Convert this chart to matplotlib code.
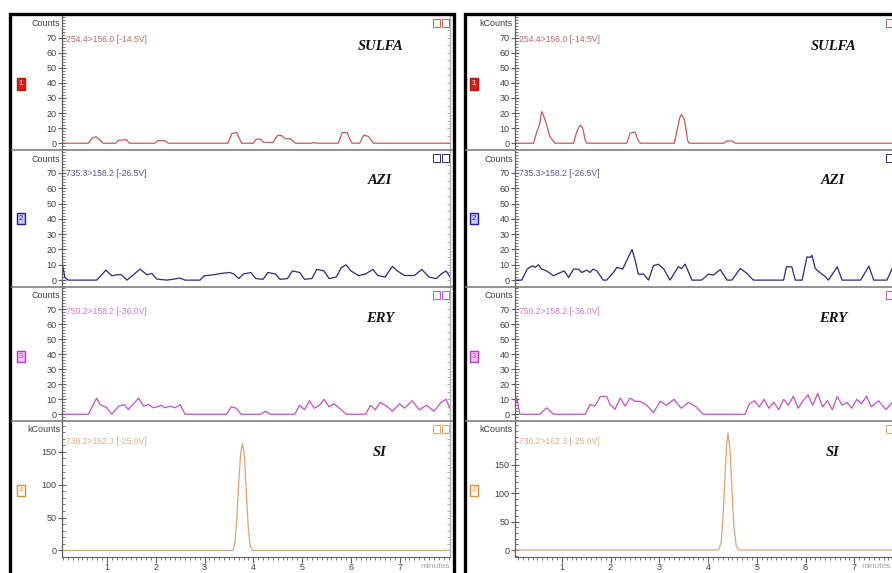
import matplotlib
matplotlib.use('Agg')
import matplotlib.pyplot as plt
from matplotlib.patches import Rectangle
from matplotlib.lines import Line2D
from matplotlib.ticker import MultipleLocator, NullFormatter

# ── Traces: (time [min], intensity) ───────────────────────────────────────────
sulfa_l_t = [0.06, 0.62, 0.70, 0.78, 0.86, 0.92, 1.18, 1.24, 1.40, 1.46, 1.98, 2.04, 2.18, 2.26,
             3.48, 3.56, 3.66, 3.76, 4.00, 4.06, 4.14, 4.22, 4.40, 4.50, 4.58, 4.66, 4.76, 4.86,
             5.20, 5.24, 5.28, 5.74, 5.82, 5.92, 6.02, 6.18, 6.26, 6.36, 6.46, 8.03]
sulfa_l_y = [0, 0, 3.5, 4.2, 2, 0, 0, 2, 2.3, 0, 0, 1.7, 1.7, 0,
             0, 6.5, 7, 0, 0, 2.7, 2.7, 0.5, 0.5, 5.3, 5, 3, 3, 0,
             0, 0.5, 0, 0, 7, 7, 0, 0, 5.3, 4.5, 0, 0]

azi_l_t = [0.06, 0.09, 0.14, 0.21, 0.79, 0.98, 1.10, 1.20, 1.30, 1.41, 1.68, 1.82, 1.92, 2.02,
           2.23, 2.50, 2.60, 2.91, 2.99, 3.18, 3.35, 3.52, 3.60, 3.70, 3.80, 3.95, 4.05, 4.20,
           4.30, 4.45, 4.55, 4.70, 4.80, 4.95, 5.05, 5.20, 5.30, 5.45, 5.55, 5.70, 5.80, 5.90,
           6.00, 6.15, 6.30, 6.45, 6.55, 6.70, 6.85, 6.95, 7.10, 7.30, 7.45, 7.60, 7.75, 7.85,
           7.95, 8.03]
azi_l_y = [6, 10.2, 1.5, 0, 0, 6.5, 2.8, 3.5, 3.5, 0, 7.2, 3.5, 4.4, 0.7,
           0, 1.3, 0, 0, 2.8, 3.5, 4.4, 5.0, 4, 1, 4, 5, 1, 0.5,
           5, 4, 0.5, 1, 6, 5, 0.5, 1, 7, 6, 1, 2, 8, 10,
           6, 3, 4, 7, 3, 2, 9, 6, 3, 3, 7, 2, 1, 4,
           6, 2]

ery_l_t = [0.06, 0.62, 0.79, 0.86, 1.00, 1.10, 1.24, 1.35, 1.44, 1.65, 1.75, 1.85, 1.95, 2.12,
           2.19, 2.30, 2.40, 2.50, 2.60, 3.45, 3.55, 3.65, 3.75, 4.15, 4.25, 4.35, 4.85, 4.95,
           5.05, 5.15, 5.25, 5.35, 5.45, 5.55, 5.65, 5.80, 5.90, 6.30, 6.40, 6.50, 6.60, 6.75,
           6.85, 7.00, 7.10, 7.25, 7.40, 7.55, 7.70, 7.85, 7.95, 8.03]
ery_l_y = [0, 0, 10.8, 6.5, 4.3, 0, 5.4, 6.5, 3.2, 10.8, 5.4, 6.5, 4.3, 6,
           4.3, 5.4, 4.3, 6.5, 0, 0, 5, 4, 0, 0, 2, 0, 0, 6,
           3, 9, 4, 6, 10, 5, 7, 3, 0, 0, 6, 3, 8, 5,
           2, 7, 4, 9, 3, 6, 2, 8, 10, 4]

si_l_t = [0.06, 3.58, 3.62, 3.66, 3.70, 3.74, 3.78, 3.82, 3.86, 3.90, 3.94, 3.98, 8.03]
si_l_y = [0, 0, 10, 45, 100, 148, 163, 140, 85, 30, 6, 0, 0]

sulfa_r_t = [0.04, 0.42, 0.49, 0.54, 0.59, 0.64, 0.69, 0.76, 0.86, 1.24, 1.31, 1.38, 1.43, 1.48,
             1.51, 2.33, 2.40, 2.50, 2.55, 2.61, 3.31, 3.36, 3.42, 3.46, 3.51, 3.54, 3.58, 3.61,
             4.32, 4.39, 4.49, 4.56, 8.0]
sulfa_r_y = [0, 0, 7.8, 12, 21, 17, 12, 4, 0, 0, 8, 12, 10, 2,
             0, 0, 6.5, 7.5, 3, 0, 0, 8, 17, 19, 16, 11, 2, 0,
             0, 1.5, 1.5, 0, 0]

azi_r_t = [0.04, 0.18, 0.29, 0.40, 0.45, 0.52, 0.59, 0.69, 0.83, 0.93, 1.05, 1.14, 1.24, 1.34,
           1.41, 1.51, 1.58, 1.64, 1.72, 1.85, 1.92, 2.06, 2.13, 2.25, 2.33, 2.44, 2.50, 2.57,
           2.68, 2.78, 2.88, 2.98, 3.09, 3.22, 3.39, 3.46, 3.53, 3.67, 3.87, 4.01, 4.11, 4.25,
           4.39, 4.49, 4.66, 4.80, 4.93, 5.55, 5.61, 5.72, 5.79, 5.93, 6.03, 6.10, 6.13, 6.20,
           6.30, 6.41, 6.47, 6.65, 6.75, 7.13, 7.30, 7.40, 7.67, 7.78, 8.0]
azi_r_y = [0, 0, 7.2, 9.4, 8.3, 10, 7.2, 6, 2.8, 4.4, 6, 1.7, 7.2, 7.2,
           5, 6.5, 5, 7.2, 6, 0, 0, 5, 8.3, 7.2, 12.6, 20, 13.7, 3.9,
           3.9, 0, 9.4, 10.4, 7.4, 0, 8.7, 7.6, 10.5, 0, 0, 3.9, 3.3, 6.9,
           0, 0, 7.6, 4.4, 0, 0, 8.7, 8.7, 0, 0, 15.2, 14.8, 16.3, 7.6,
           4.8, 2.2, 0, 8.7, 0, 0, 9.1, 0, 0, 7.6, 2]

ery_r_t = [0.04, 0.08, 0.14, 0.55, 0.69, 0.83, 1.48, 1.58, 1.68, 1.79, 1.92, 1.99, 2.09, 2.20,
           2.30, 2.40, 2.51, 2.61, 2.75, 2.88, 3.02, 3.15, 3.30, 3.45, 3.60, 3.75, 3.90, 4.76,
           4.85, 4.95, 5.05, 5.15, 5.25, 5.35, 5.45, 5.55, 5.65, 5.75, 5.85, 5.95, 6.05, 6.15,
           6.25, 6.35, 6.45, 6.55, 6.65, 6.75, 6.85, 6.95, 7.05, 7.15, 7.25, 7.35, 7.50, 7.65,
           7.78, 8.0]
ery_r_y = [6, 10.8, 0, 0, 4.3, 0, 0, 6.5, 5.4, 11.9, 11.9, 6.5, 3.2, 10.8,
           5.4, 10.8, 8.6, 8.6, 5.8, 1.1, 8.6, 6, 10, 4, 8, 5, 0, 0,
           7, 9, 5, 10, 4, 8, 3, 10, 6, 12, 4, 9, 13, 6,
           14, 5, 9, 3, 12, 6, 8, 4, 10, 7, 12, 5, 9, 3,
           8, 4]

si_r_t = [0.04, 4.22, 4.27, 4.31, 4.35, 4.38, 4.41, 4.45, 4.49, 4.53, 4.58, 4.63, 8.0]
si_r_y = [0, 0, 14, 63, 132, 184, 206, 178, 109, 40, 7, 0, 0]

# ── Channel descriptions ──────────────────────────────────────────────────────
names       = ['SULFA', 'AZI', 'ERY', 'SI']
transitions = ['254.4>156.0 [-14.5V]', '735.3>158.2 [-26.5V]',
               '750.2>158.2 [-36.0V]', '739.2>162.3 [-25.0V]']
line_cols   = ['#c8585a', '#2a2a78', '#c250c8', '#dca673']
text_cols   = ['#b86868', '#5a5a90', '#c87ad0', '#dcae82']
badge_face  = ['#d81e1e', '#c8c8f0', '#f0c8f0', '#ffffff']
badge_edge  = ['#c01010', '#1c1ca8', '#c030c8', '#e08c30']
badge_txt   = ['#ffffff', '#2020a0', '#c040c8', '#e09040']
units_l     = ['Counts', 'Counts', 'Counts', 'kCounts']
units_r     = ['kCounts', 'Counts', 'Counts', 'kCounts']
si_lim_l    = (-10, 197)
si_lim_r    = (-12.3, 227.5)

left_traces  = [(sulfa_l_t, sulfa_l_y), (azi_l_t, azi_l_y), (ery_l_t, ery_l_y), (si_l_t, si_l_y)]
right_traces = [(sulfa_r_t, sulfa_r_y), (azi_r_t, azi_r_y), (ery_r_t, ery_r_y), (si_r_t, si_r_y)]

# ── Layout in pixels ──────────────────────────────────────────────────────────
W, H = 892, 573
fig = plt.figure(figsize=(W / 100, H / 100), dpi=100)
fig.patch.set_facecolor('white')

def fx(x):
    return x / W

def fy(y):
    return 1 - y / H

ROW_TOP = [15, 150, 287, 421]
ROW_BOT = [150, 287, 421, 557]
AX_W = 388
SANS = ['Liberation Sans', 'DejaVu Sans']
SERIF = ['Liberation Serif', 'DejaVu Serif']


def draw_panel(x0, xlim, traces, units, badge_x, si_lim, min_x):
    for k in range(4):
        top, bot = ROW_TOP[k], ROW_BOT[k]
        ax = fig.add_axes([fx(x0), fy(bot), AX_W / W, (bot - top) / H])
        t, v = traces[k]
        ax.plot(t, v, color=line_cols[k], lw=0.9)
        ax.set_xlim(*xlim)

        if k < 3:
            ax.set_ylim(-4.5, 85)
            ax.set_yticks(range(0, 80, 10))
            ax.yaxis.set_minor_locator(MultipleLocator(2))
        else:
            ax.set_ylim(*si_lim)
            ax.set_yticks([0, 50, 100, 150])
            ax.yaxis.set_minor_locator(MultipleLocator(10))

        for s in ('top', 'bottom'):
            ax.spines[s].set_visible(False)
        ax.spines['left'].set_color('#606060')
        ax.spines['left'].set_linewidth(0.9)
        ax.spines['right'].set_color('#b0b0b0')
        ax.spines['right'].set_linewidth(0.9)
        ax.tick_params(axis='y', which='major', direction='inout', length=6, width=0.8,
                       color='#606060', labelsize=6.5, labelcolor='#404040', pad=1)
        ax.tick_params(axis='y', which='minor', direction='in', length=2.5, width=0.6,
                       color='#606060')
        for lab in ax.get_yticklabels():
            lab.set_family(SANS)

        # right-hand ruler ticks
        sec = ax.secondary_yaxis('right')
        sec.yaxis.set_major_locator(MultipleLocator(5 if k < 3 else 10))
        sec.yaxis.set_major_formatter(NullFormatter())
        sec.tick_params(direction='in', length=2.5, width=0.6, color='#a0a0a0')
        sec.spines['right'].set_color('#b0b0b0')

        if k == 3:
            ax.spines['bottom'].set_visible(True)
            ax.spines['bottom'].set_color('#606060')
            ax.set_xticks(range(1, 8))
            ax.xaxis.set_minor_locator(MultipleLocator(0.1))
            ax.tick_params(axis='x', which='major', direction='out', length=4, width=0.8,
                           color='#606060', labelsize=6.5, labelcolor='#404040', pad=0)
            ax.tick_params(axis='x', which='minor', direction='out', length=2, width=0.6,
                           color='#606060')
            for lab in ax.get_xticklabels():
                lab.set_family(SANS)
        else:
            ax.set_xticks([])

        # unit label above the scale
        fig.text(fx(x0 - 2), fy(top + 9), units[k], ha='right', va='center',
                 fontsize=6.5, color='#404040', family=SANS)
        # MRM transition
        ty = top + 24 if k < 3 else top + 21
        fig.text(fx(x0 + 4), fy(ty), transitions[k], ha='left', va='center',
                 fontsize=6.2, color=text_cols[k], family=SANS)
        # compound name
        ax.text(0.82, 1 - 31 / (bot - top), names[k], transform=ax.transAxes,
                ha='center', va='center', fontsize=10.5, fontweight='bold',
                fontstyle='italic', family=SERIF, color='#111111')
        # channel badge
        by = top + 69
        fig.patches.append(Rectangle((fx(badge_x - 4), fy(by + 5.5)), 8 / W, 11 / H,
                                     transform=fig.transFigure, facecolor=badge_face[k],
                                     edgecolor=badge_edge[k], lw=1.0))
        fig.text(fx(badge_x), fy(by), str(k + 1), ha='center', va='center',
                 fontsize=5.5, color=badge_txt[k], family=SANS)
        # window buttons in the corner
        for j in range(2):
            bx = x0 + AX_W - 17 + j * 9
            fig.patches.append(Rectangle((fx(bx), fy(top + 12)), 7 / W, 8 / H,
                                         transform=fig.transFigure, facecolor='white',
                                         edgecolor=line_cols[k], lw=0.7))

    # time axis caption
    fig.text(fx(min_x), fy(567), 'minutes', ha='right', va='center',
             fontsize=6.0, color='#a0a0a0', family=SANS)


draw_panel(62, (0.08, 8.03), left_traces, units_l, 21, si_lim_l, 450)
draw_panel(515, (0.04, 8.0), right_traces, units_r, 474, si_lim_r, 891)

# row dividers and frames
for y in ROW_BOT[:3]:
    fig.add_artist(Line2D([fx(12), fx(452)], [fy(y), fy(y)], color='#808080', lw=1.2))
    fig.add_artist(Line2D([fx(466), fx(892)], [fy(y), fy(y)], color='#808080', lw=1.2))
fig.patches.append(Rectangle((fx(10), fy(590)), 444 / W, 576 / H, transform=fig.transFigure,
                             fill=False, edgecolor='black', lw=2.4))
fig.patches.append(Rectangle((fx(464.5), fy(590)), 460 / W, 576 / H, transform=fig.transFigure,
                             fill=False, edgecolor='black', lw=2.4))

fig.savefig('out.png', dpi=100)
